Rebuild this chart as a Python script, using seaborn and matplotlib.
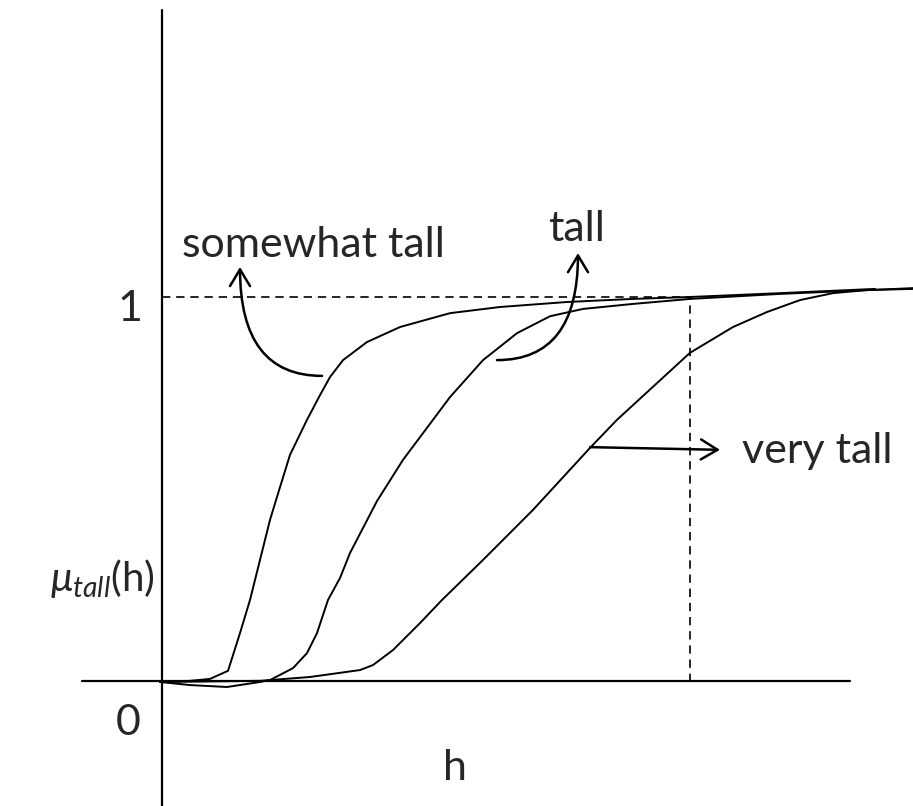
import pandas as pd
import matplotlib
matplotlib.use("Agg")
import matplotlib.pyplot as plt
import seaborn as sns

# membership curves (h, mu)
somewhat_h = [0, 0.30, 0.50, 0.68, 0.80, 0.90, 1.00, 1.10, 1.20, 1.30, 1.47, 1.60, 1.70, 1.83,
              2.07, 2.40, 2.90, 3.40, 4.07, 4.73, 5.30, 6.20, 7.15]
somewhat_mu = [0, 0.003, 0.008, 0.029, 0.127, 0.213, 0.317, 0.421, 0.506, 0.590, 0.681, 0.745, 0.792, 0.836,
               0.883, 0.922, 0.958, 0.974, 0.987, 0.995, 1.0, 1.010, 1.021]

tall_h = [0, 0.30, 0.67, 1.00, 1.10, 1.33, 1.47, 1.57, 1.68, 1.80, 1.90, 2.17, 2.43, 2.73,
          2.90, 3.23, 3.57, 3.90, 4.23, 4.73, 5.30, 6.20, 7.53]
tall_mu = [0, -0.008, -0.013, 0.0, 0.005, 0.036, 0.075, 0.127, 0.213, 0.270, 0.335, 0.470, 0.577, 0.681,
           0.740, 0.836, 0.906, 0.950, 0.969, 0.982, 0.995, 1.008, 1.023]

very_h = [0, 1.0, 1.5, 2.0, 2.13, 2.33, 2.60, 2.82, 3.23, 3.73, 4.30, 4.57, 5.30, 5.73,
          6.07, 6.40, 6.73, 7.07, 7.53]
very_mu = [0, 0.003, 0.013, 0.031, 0.044, 0.083, 0.153, 0.213, 0.317, 0.447, 0.608, 0.681, 0.855, 0.922,
           0.961, 0.992, 1.010, 1.018, 1.021]

h_cut = 5.3  # where the dashed guide drops down

curves = pd.concat([
    pd.DataFrame({"h": somewhat_h, "mu": somewhat_mu, "curve": "somewhat tall"}),
    pd.DataFrame({"h": tall_h, "mu": tall_mu, "curve": "tall"}),
    pd.DataFrame({"h": very_h, "mu": very_mu, "curve": "very tall"}),
])

sns.set_style("white")
plt.rcParams["font.family"] = ["Lato", "DejaVu Sans"]
plt.rcParams["mathtext.fontset"] = "custom"
plt.rcParams["mathtext.rm"] = "Lato"
plt.rcParams["mathtext.it"] = "Lato:italic"

fig = plt.figure(figsize=(9.13, 8.06), dpi=100)
ax = fig.add_axes([0, 0, 1, 1])
ax.set_xlim(-1.6, 7.53)
ax.set_ylim(-0.3221, 1.7714)
ax.axis("off")

# hand-drawn axes
ax.plot([0.015, 0.015], [-0.33, 1.745], color="black", lw=1.6)
ax.plot([-0.78, 6.9], [0.003, 0.003], color="black", lw=1.6)

# dashed guides
ax.plot([0.02, h_cut], [1, 1], color="black", lw=1.2, linestyle=(0, (5, 3.5)))
ax.plot([h_cut, h_cut], [0, 1], color="black", lw=1.2, linestyle=(0, (5, 3.5)))

sns.lineplot(data=curves, x="h", y="mu", units="curve", estimator=None, sort=False,
             color="black", lw=1.4, ax=ax, legend=False)

fs = 31
arrow = dict(arrowstyle="->,head_length=0.6,head_width=0.36", mutation_scale=20,
             color="black", lw=1.8, shrinkA=0, shrinkB=0)

ax.annotate("", xy=(0.80, 1.078), xytext=(1.62, 0.795),
            arrowprops={**arrow, "connectionstyle": "angle3,angleA=0,angleB=90"})
ax.annotate("", xy=(4.18, 1.114), xytext=(3.37, 0.836),
            arrowprops={**arrow, "connectionstyle": "angle3,angleA=0,angleB=90"})
ax.annotate("", xy=(5.60, 0.603), xytext=(4.30, 0.610), arrowprops=arrow)

ax.text(0.22, 1.103, "somewhat tall", fontsize=fs, ha="left", va="baseline")
ax.text(3.88, 1.145, "tall", fontsize=fs, ha="left", va="baseline")
ax.text(5.82, 0.569, "very tall", fontsize=fs, ha="left", va="baseline")

ax.text(-0.30, 0.97, "1", fontsize=fs, ha="center", va="center")
ax.text(-0.32, -0.107, "0", fontsize=fs, ha="center", va="center")
ax.text(2.95, -0.223, "h", fontsize=fs, ha="center", va="center")
ax.text(-1.10, 0.27, r"$\mu_{tall}$(h)", fontsize=fs - 2, ha="left", va="center")

plt.savefig("out.png", dpi=100)
